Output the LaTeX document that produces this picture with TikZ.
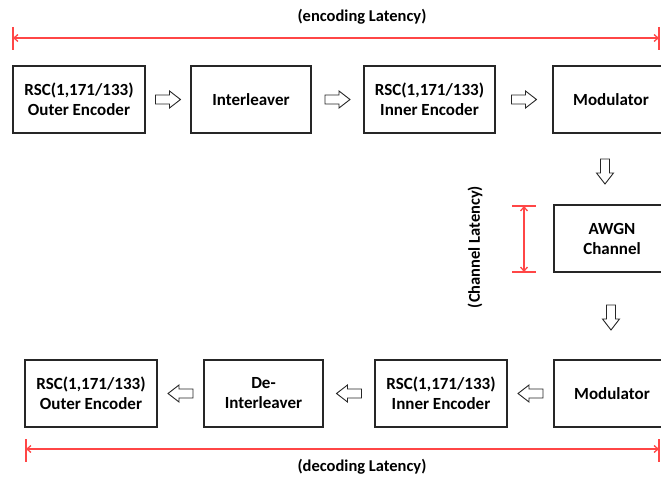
\documentclass[tikz,border=0pt]{standalone}
\usepackage{fontspec}
\setmainfont{Carlito}
\usetikzlibrary{arrows.meta,calc}
\definecolor{latred}{RGB}{255,70,70}
\tikzset{
  blk/.style={draw=black!85,line width=1.05pt,fill=white,align=center,inner sep=2pt,
    font=\bfseries\fontsize{17}{20}\selectfont,minimum height=67pt},
  pics/blockarrow/.style={code={
    \draw[draw=black!85,line width=0.9pt,fill=white,line join=miter]
      (-12.5,-4.5) -- (1.5,-4.5) -- (1.5,-8.5) -- (12.5,0) -- (1.5,8.5) -- (1.5,4.5) -- (-12.5,4.5) -- cycle;
  }},
  lat/.style={draw=latred,line width=1.3pt},
  lattip/.style={lat,{Straight Barb[length=4pt,width=7pt]}-{Straight Barb[length=4pt,width=7pt]}},
  lbl/.style={font=\bfseries\fontsize{16.5}{18}\selectfont}
}
\begin{document}
\begin{tikzpicture}[x=1pt,y=-1pt]
\useasboundingbox (0,0) rectangle (661,478);
% top row
\node[blk,minimum width=132pt] (e1) at (79,99.5) {RSC(1,171/133)\\Outer Encoder};
\node[blk,minimum width=120pt] (e2) at (251,99.5) {Interleaver};
\node[blk,minimum width=131pt] (e3) at (429.5,99.5) {RSC(1,171/133)\\Inner Encoder};
\node[blk,minimum width=116pt] (e4) at (611,99.5) {Modulator};
% channel
\node[blk,minimum width=116pt] (ch) at (612,238.5) {AWGN\\Channel};
% bottom row
\node[blk,minimum width=132pt] (d1) at (91,393.5) {RSC(1,171/133)\\Outer Encoder};
\node[blk,minimum width=119pt] (d2) at (263.5,393.5) {De-\\Interleaver};
\node[blk,minimum width=132pt] (d3) at (441,393.5) {RSC(1,171/133)\\Inner Encoder};
\node[blk,minimum width=116pt] (d4) at (612,393.5) {Modulator};
% hollow block arrows
\pic at ($(e1.east)!0.5!(e2.west)$) {blockarrow};
\pic at ($(e2.east)!0.5!(e3.west)$) {blockarrow};
\pic at ($(e3.east)!0.5!(e4.west)$) {blockarrow};
\pic[rotate=-90] at (605,171.5) {blockarrow};
\pic[rotate=-90] at (611,317.5) {blockarrow};
\pic[rotate=180] at ($(d4.west)!0.5!(d3.east)$) {blockarrow};
\pic[rotate=180] at ($(d3.west)!0.5!(d2.east)$) {blockarrow};
\pic[rotate=180] at ($(d2.west)!0.5!(d1.east)$) {blockarrow};
% encoding latency
\coordinate (tl) at (13,38);
\coordinate (tr) at (659,38);
\draw[lattip] (tl) -- (tr);
\draw[lat] ($(tl)+(0,-11)$) -- ($(tl)+(0,12)$);
\draw[lat] ($(tr)+(0,-11)$) -- ($(tr)+(0,12)$);
\node[lbl] (tenc) at (362,17) {(encoding Latency)};
% decoding latency
\coordinate (bl) at (26,449);
\coordinate (br) at (659,449);
\draw[lattip] (bl) -- (br);
\draw[lat] ($(bl)+(0,-10)$) -- ($(bl)+(0,13)$);
\draw[lat] ($(br)+(0,-10)$) -- ($(br)+(0,13)$);
\node[lbl] (tdec) at (362,467) {(decoding Latency)};
% channel latency
\coordinate (ct) at (524,206);
\coordinate (cb) at (524,272);
\draw[lattip] (ct) -- (cb);
\draw[lat] ($(ct)+(-12,0)$) -- ($(ct)+(12,0)$);
\draw[lat] ($(cb)+(-12,0)$) -- ($(cb)+(12,0)$);
\node[lbl,rotate=90] (tch) at (475,247) {(Channel Latency)};
\end{tikzpicture}
\end{document}
